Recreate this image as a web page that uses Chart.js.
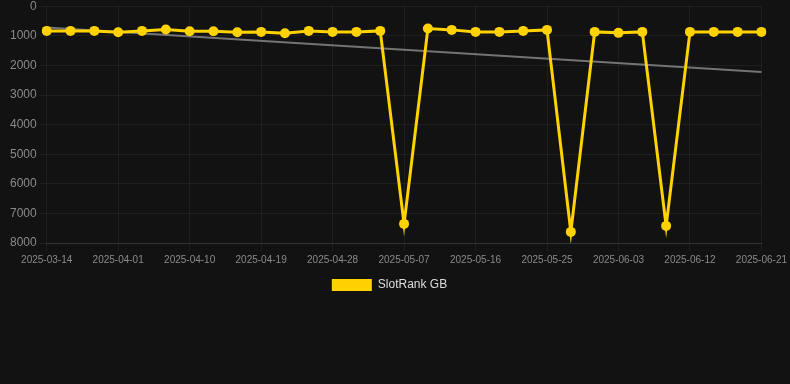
<!DOCTYPE html>
<html>
<head>
<meta charset="utf-8">
<script src="https://cdn.jsdelivr.net/npm/chart.js@4"></script>
<style>
  html, body { margin: 0; padding: 0; background: #121212; overflow: hidden; }
  #wrap { width: 790px; height: 305px; margin-top: -4px; }
</style>
</head>
<body>
<div id="wrap"><canvas id="chartRank"></canvas></div>
<script>
// Dates (category axis, only every 3rd shown)
const dates = [
    '2025-03-14', '2025-03-26', '2025-03-29', '2025-04-01', '2025-04-04', '2025-04-07',
    '2025-04-10', '2025-04-13', '2025-04-16', '2025-04-19', '2025-04-22', '2025-04-25',
    '2025-04-28', '2025-05-01', '2025-05-04', '2025-05-07', '2025-05-10', '2025-05-13',
    '2025-05-16', '2025-05-19', '2025-05-22', '2025-05-25', '2025-05-28', '2025-05-31',
    '2025-06-03', '2025-06-06', '2025-06-09', '2025-06-12', '2025-06-15', '2025-06-18',
    '2025-06-21'
];

// Rang SlotRank GB
const rankGB = [
    834, 834, 834, 878, 834, 787, 845, 845, 878, 868,
    912, 834, 868, 868, 834, 7355, 755, 800, 868, 868,
    834, 800, 7625, 868, 900, 868, 7422, 868, 868, 868,
    868
];

// Tendance (début et fin)
const trend = [
    720, null, null, null, null, null, null, null, null, null,
    null, null, null, null, null, null, null, null, null, null,
    null, null, null, null, null, null, null, null, null, null,
    2220
];

const canvas = document.getElementById('chartRank');

// Décale un peu la légende vers la gauche
const legendShift = {
    id: 'legendShift',
    afterLayout(chart) {
        if (chart.legend) {
            chart.legend.left -= 8;
            chart.legend.right -= 8;
        }
    }
};

new Chart(canvas, {
    type: 'line',
    data: {
        labels: dates,
        datasets: [{
            label: 'SlotRank GB',
            data: rankGB,
            borderColor: '#FFD200',
            backgroundColor: '#FFD200',
            borderWidth: 3,
            pointRadius: 5,
            pointBackgroundColor: '#FFD200',
            pointBorderWidth: 0,
            tension: 0
        }, {
            label: 'Trend',
            data: trend,
            borderColor: 'rgba(140, 140, 140, 0.8)',
            borderWidth: 2,
            pointRadius: 0,
            spanGaps: true,
            tension: 0
        }]
    },
    options: {
        responsive: true,
        maintainAspectRatio: false,
        animation: false,
        layout: {
            autoPadding: false,
            padding: { left: 7, right: 2, top: 0, bottom: 0 }
        },
        plugins: {
            legend: {
                display: true,
                position: 'bottom',
                labels: {
                    color: '#dddddd',
                    font: { size: 12 },
                    boxWidth: 40,
                    boxHeight: 12,
                    generateLabels: chart => [{
                        text: 'SlotRank GB',
                        fillStyle: '#FFD200',
                        strokeStyle: '#FFD200',
                        lineWidth: 0,
                        fontColor: '#dddddd',
                        hidden: false,
                        datasetIndex: 0
                    }]
                }
            },
            tooltip: { enabled: false }
        },
        scales: {
            y: {
                reverse: true,
                min: 0,
                max: 8000,
                ticks: {
                    stepSize: 1000,
                    color: '#8a8a8a',
                    font: { size: 12 },
                    callback: value => String(value)
                },
                grid: {
                    color: 'rgba(255, 255, 255, 0.05)',
                    tickLength: 7
                },
                border: { display: false }
            },
            x: {
                ticks: {
                    color: '#8a8a8a',
                    font: { size: 10 },
                    maxRotation: 0,
                    autoSkip: false,
                    callback: function (val, index) {
                        return index % 3 === 0 ? this.getLabelForValue(val) : null;
                    }
                },
                grid: {
                    color: 'rgba(255, 255, 255, 0.05)'
                },
                border: { color: 'rgba(255, 255, 255, 0.1)' }
            }
        }
    },
    plugins: [legendShift]
});
</script>
</body>
</html>
